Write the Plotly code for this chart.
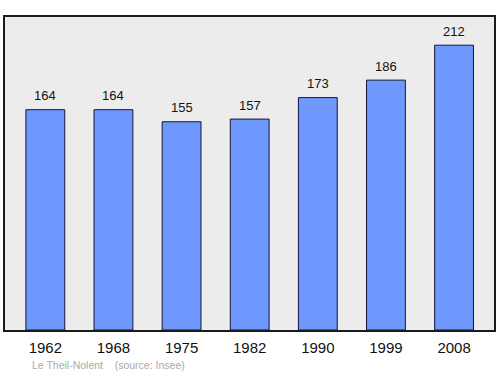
import plotly.graph_objects as go

years = ["1962", "1968", "1975", "1982", "1990", "1999", "2008"]
population = [164, 164, 155, 157, 173, 186, 212]
source_text = "Le Theil-Nolent    (source: Insee)"

xs = list(range(len(years)))

fig = go.Figure()
fig.add_trace(go.Bar(
    x=xs, y=population, width=0.57,
    marker=dict(color="#6f98ff", line=dict(color="#14143a", width=1)),
    hoverinfo="skip",
))

for xi, v in zip(xs, population):
    fig.add_annotation(x=xi, y=v, text=str(v), showarrow=False, yshift=14,
                       font=dict(family="Liberation Sans, Arial, sans-serif", size=13, color="#111"))

fig.add_annotation(xref="paper", yref="paper", x=0.052, y=-0.112, xanchor="left", yanchor="middle",
                   text=source_text, showarrow=False,
                   font=dict(family="Liberation Sans, Arial, sans-serif", size=10.5, color="#aaaaaa"))

fig.update_layout(
    width=500, height=374,
    margin=dict(l=5, r=4, t=17, b=44),
    paper_bgcolor="white", plot_bgcolor="#ececec",
    showlegend=False,
    font=dict(family="Liberation Sans, Arial, sans-serif"),
    xaxis=dict(range=[-0.592, 6.586], tickmode="array", tickvals=xs, ticktext=years,
               showgrid=False, zeroline=False, showline=True, mirror=True,
               linecolor="#1a1a1a", linewidth=1.5, ticks="outside", ticklen=3,
               tickcolor="rgba(0,0,0,0)", tickfont=dict(size=15, color="#111")),
    yaxis=dict(range=[0, 233], showgrid=False, zeroline=False, showticklabels=False,
               showline=True, mirror=True, linecolor="#1a1a1a", linewidth=1.5),
)

fig.write_html("out.html")
